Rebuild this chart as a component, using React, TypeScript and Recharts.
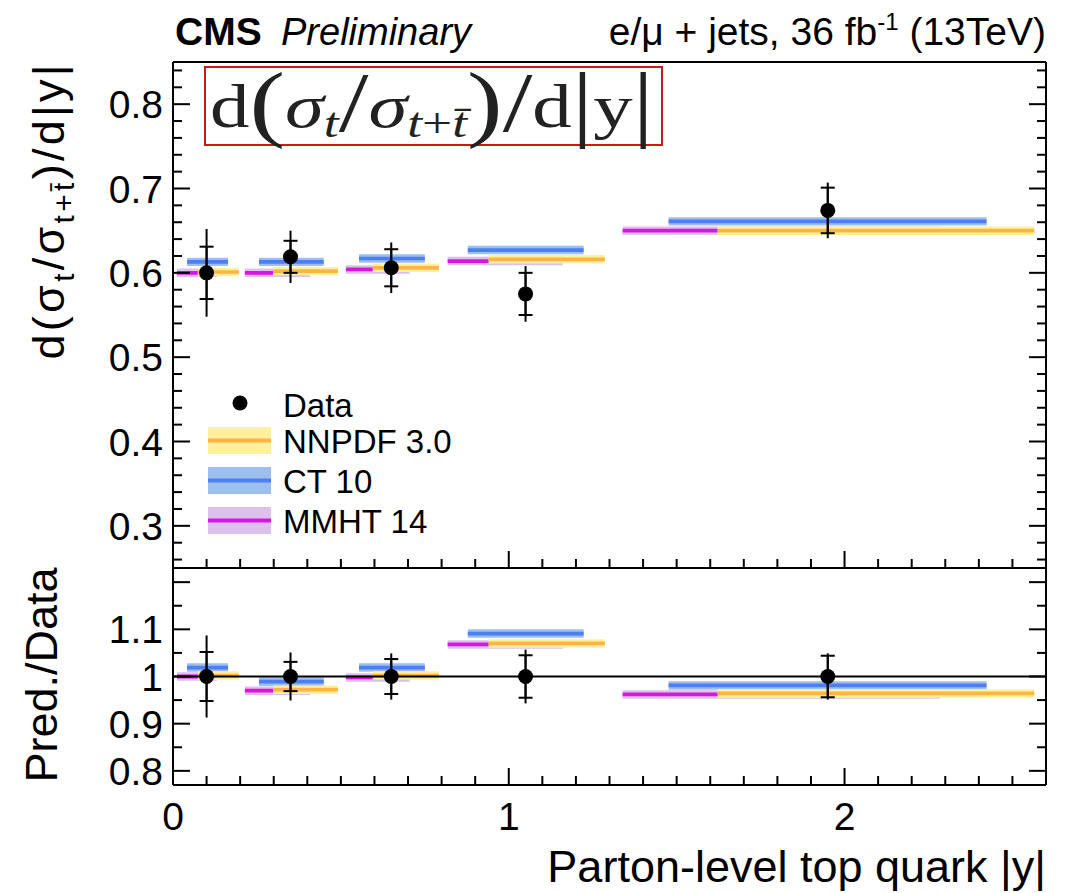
import React from 'react'
import { ComposedChart, XAxis, YAxis, Scatter, ErrorBar, ReferenceArea, ReferenceLine } from 'recharts'

const W = 1069
const H = 893
const FONT = '"Liberation Sans", Arial, Helvetica, sans-serif'
const SERIF = '"Liberation Serif", "DejaVu Serif", serif'

// measured points (bin centres, normalised cross section)
const binX = [0.1, 0.35, 0.65, 1.05, 1.95]
const dataVal = [0.6, 0.619, 0.606, 0.575, 0.674]
const dataStat = [0.031, 0.019, 0.022, 0.025, 0.027]
const dataTot = [0.052, 0.031, 0.03, 0.033, 0.033]
const ratioStat = [0.052, 0.031, 0.037, 0.045, 0.044]
const ratioTot = [0.087, 0.051, 0.049, 0.057, 0.049]

// predictions: horizontal extent of each bar (in |y|)
const mmhtX = [[0.012, 0.131], [0.214, 0.408], [0.515, 0.705], [0.818, 1.161], [1.339, 2.283]]
const ct10X = [[0.042, 0.164], [0.256, 0.449], [0.554, 0.75], [0.878, 1.223], [1.476, 2.423]]
const nnpdfX = [[0.074, 0.196], [0.298, 0.491], [0.595, 0.792], [0.94, 1.286], [1.622, 2.565]]

const mmhtVal = [0.6, 0.6, 0.604, 0.614, 0.65]
const ct10Val = [0.613, 0.613, 0.617, 0.627, 0.661]
const nnpdfVal = [0.601, 0.602, 0.606, 0.616, 0.65]

const mmhtRatio = [1.0, 0.97, 0.998, 1.068, 0.962]
const ct10Ratio = [1.019, 0.989, 1.019, 1.091, 0.981]
const nnpdfRatio = [1.002, 0.972, 1.002, 1.07, 0.964]

const predUnc = 0.005
const ratioUnc = 0.009

// ticks
const xTicks = [0, 0.1, 0.2, 0.3, 0.4, 0.5, 0.6, 0.7, 0.8, 0.9, 1, 1.1, 1.2, 1.3, 1.4, 1.5, 1.6, 1.7, 1.8, 1.9, 2, 2.1, 2.2, 2.3, 2.4, 2.5, 2.6]
const xMajor = [0, 1, 2]
const topYTicks = [0.26, 0.28, 0.3, 0.32, 0.34, 0.36, 0.38, 0.4, 0.42, 0.44, 0.46, 0.48, 0.5, 0.52, 0.54, 0.56, 0.58, 0.6, 0.62, 0.64, 0.66, 0.68, 0.7, 0.72, 0.74, 0.76, 0.78, 0.8, 0.82, 0.84]
const topYMajor = [0.3, 0.4, 0.5, 0.6, 0.7, 0.8]
const ratioYTicks = [0.8, 0.85, 0.9, 0.95, 1, 1.05, 1.1, 1.15, 1.2]
const ratioYMajor = [0.8, 0.9, 1, 1.1, 1.2]
const ratioYLabels = [0.8, 0.9, 1, 1.1]

const colors = {
  nnpdf: { band: '#fff19c', line: '#ffb347' },
  ct10: { band: '#9dbff0', line: '#4d80ee' },
  mmht: { band: '#dcc0ee', line: '#dd14dd' },
}

const AXIS = { stroke: '#000', strokeWidth: 2 }
const has = (arr: number[], v: number) => arr.some(m => Math.abs(m - v) < 1e-6)

// inward ROOT-style ticks, labels only on the listed values
function makeTick(dir: 'up' | 'down' | 'left' | 'right', majors: number[], labels: number[] | null, kind: 'x' | 'y' = 'y') {
  return (props: any) => {
    const { x, y, payload } = props
    const v = payload.value
    const len = has(majors, v) ? 17 : 9
    let x2 = x
    let y2 = y
    if (dir === 'right') x2 = x + len
    if (dir === 'left') x2 = x - len
    if (dir === 'up') y2 = y - len
    if (dir === 'down') y2 = y + len
    const show = labels && has(labels, v)
    return (
      <g>
        <line x1={x} y1={y} x2={x2} y2={y2} stroke="#000" strokeWidth={2} />
        {show && kind === 'y' && (
          <text x={x - 10} y={y} dy="0.36em" textAnchor="end" fontSize={39} fontFamily={FONT} fill="#000">
            {String(v)}
          </text>
        )}
        {show && kind === 'x' && (
          <text x={x} y={y + 45} textAnchor="middle" fontSize={39} fontFamily={FONT} fill="#000">
            {String(v)}
          </text>
        )}
      </g>
    )
  }
}

function bars(xr: number[][], vals: number[], unc: number, half: number, c: { band: string; line: string }, key: string) {
  return xr.flatMap(([a, b], i) => [
    <ReferenceArea key={`${key}b${i}`} x1={a} x2={b} y1={vals[i] - unc} y2={vals[i] + unc} fill={c.band} fillOpacity={1} stroke="none" />,
    <ReferenceArea key={`${key}l${i}`} x1={a} x2={b} y1={vals[i] - half} y2={vals[i] + half} fill={c.line} fillOpacity={1} stroke="none" />,
  ])
}

const Dot = (p: any) => <circle cx={p.cx} cy={p.cy} r={7.5} fill="#000" />

const topPoints = binX.map((x, i) => ({ x, y: dataVal[i], stat: dataStat[i], tot: dataTot[i] }))
const ratioPoints = binX.map((x, i) => ({ x, y: 1, stat: ratioStat[i], tot: ratioTot[i] }))

function Axes({ yDomain, yTicks, yMajor, yLabels, xLabels }: { yDomain: number[]; yTicks: number[]; yMajor: number[]; yLabels: number[]; xLabels: number[] | null }) {
  return (
    <>
      <XAxis dataKey="x" type="number" domain={[0, 2.6]} allowDataOverflow ticks={xTicks} interval={0} height={1}
        tickSize={0} tickMargin={0} tickLine={false} axisLine={AXIS} tick={makeTick('up', xMajor, xLabels, 'x')} />
      <XAxis xAxisId="top" orientation="top" type="number" domain={[0, 2.6]} allowDataOverflow ticks={xTicks} interval={0} height={1}
        tickSize={0} tickMargin={0} tickLine={false} axisLine={AXIS} tick={makeTick('down', xMajor, null)} />
      <YAxis dataKey="y" type="number" domain={yDomain} allowDataOverflow ticks={yTicks} interval={0} width={173}
        tickSize={0} tickMargin={0} tickLine={false} axisLine={AXIS} tick={makeTick('right', yMajor, yLabels)} />
      <YAxis yAxisId="right" orientation="right" type="number" domain={yDomain} allowDataOverflow ticks={yTicks} interval={0} width={1}
        tickSize={0} tickMargin={0} tickLine={false} axisLine={AXIS} tick={makeTick('left', yMajor, null)} />
    </>
  )
}

function TopPanel() {
  return (
    <ComposedChart width={W} height={H} margin={{ top: 61, right: 22, bottom: H - 569, left: 0 }}>
      {Axes({ yDomain: [0.25, 0.85], yTicks: topYTicks, yMajor: topYMajor, yLabels: topYMajor, xLabels: null })}
      {bars(mmhtX, mmhtVal, predUnc, 0.0022, colors.mmht, 'm')}
      {bars(ct10X, ct10Val, predUnc, 0.0022, colors.ct10, 'c')}
      {bars(nnpdfX, nnpdfVal, predUnc, 0.0022, colors.nnpdf, 'n')}
      <Scatter data={topPoints} isAnimationActive={false} shape={Dot}>
        <ErrorBar dataKey="tot" direction="y" width={0} stroke="#000" strokeWidth={2} />
        <ErrorBar dataKey="stat" direction="y" width={7} stroke="#000" strokeWidth={2} />
      </Scatter>
    </ComposedChart>
  )
}

function RatioPanel() {
  return (
    <ComposedChart width={W} height={H} margin={{ top: 567, right: 22, bottom: H - 786, left: 0 }}>
      {Axes({ yDomain: [0.77, 1.23], yTicks: ratioYTicks, yMajor: ratioYMajor, yLabels: ratioYLabels, xLabels: xMajor })}
      <ReferenceLine y={1} stroke="#000" strokeWidth={2} />
      {bars(mmhtX, mmhtRatio, ratioUnc, 0.004, colors.mmht, 'm')}
      {bars(ct10X, ct10Ratio, ratioUnc, 0.004, colors.ct10, 'c')}
      {bars(nnpdfX, nnpdfRatio, ratioUnc, 0.004, colors.nnpdf, 'n')}
      <Scatter data={ratioPoints} isAnimationActive={false} shape={Dot}>
        <ErrorBar dataKey="tot" direction="y" width={0} stroke="#000" strokeWidth={2} />
        <ErrorBar dataKey="stat" direction="y" width={7} stroke="#000" strokeWidth={2} />
      </Scatter>
    </ComposedChart>
  )
}

function Overlay() {
  const legend = [
    { label: 'NNPDF 3.0', c: colors.nnpdf, y: 427 },
    { label: 'CT 10', c: colors.ct10, y: 467 },
    { label: 'MMHT 14', c: colors.mmht, y: 507 },
  ]
  return (
    <svg width={W} height={H} style={{ position: 'absolute', left: 0, top: 0, pointerEvents: 'none' }} fontFamily={FONT}>
      <text x={175} y={45} fontSize={39} fontWeight="bold">CMS</text>
      <text x={281} y={45} fontSize={38} fontStyle="italic">Preliminary</text>
      <text x={1046} y={45} fontSize={39} textAnchor="end">
        e/μ + jets, 36 fb<tspan fontSize={24} dy={-15}>-1</tspan><tspan dy={15}> (13TeV)</tspan>
      </text>

      <text transform="translate(64,212) rotate(-90)" fontSize={45} textAnchor="middle" textLength={295} lengthAdjust="spacing">
        d(σ<tspan fontSize={30} dy={10}>t</tspan><tspan dy={-10}>/σ</tspan><tspan fontSize={30} dy={10}>t+t̄</tspan><tspan dy={-10}>)/d|y|</tspan>
      </text>
      <text transform="translate(57,675) rotate(-90)" fontSize={45} textAnchor="middle">Pred./Data</text>
      <text x={1046} y={882} fontSize={45} textAnchor="end">Parton-level top quark |y|</text>

      <rect x={205} y={67} width={457} height={78} fill="none" stroke="#d01818" strokeWidth={2} />
      <text x={210} y={127} fontFamily={SERIF} fontSize={62} fill="#222" textLength={444} lengthAdjust="spacingAndGlyphs">
        d<tspan fontSize={84} dy={4}>(</tspan><tspan dy={-4} fontStyle="italic">σ</tspan><tspan fontStyle="italic" fontSize={42} dy={10}>t</tspan><tspan fontSize={84} dy={-6}>/</tspan><tspan dy={-4} fontStyle="italic">σ</tspan><tspan fontSize={42} dy={10}><tspan fontStyle="italic">t</tspan>+<tspan fontStyle="italic">t̄</tspan></tspan><tspan fontSize={84} dy={-6}>)</tspan><tspan fontSize={84} dy={0}>/</tspan><tspan dy={-4}>d</tspan><tspan fontSize={84} dy={4}>|</tspan><tspan dy={-4}>y</tspan><tspan fontSize={84} dy={4}>|</tspan>
      </text>

      <circle cx={240} cy={403} r={7.5} fill="#000" />
      <text x={283} y={417} fontSize={33}>Data</text>
      {legend.map(l => (
        <g key={l.label}>
          <rect x={208} y={l.y} width={63} height={27} fill={l.c.band} />
          <rect x={208} y={l.y + 11.5} width={63} height={4} fill={l.c.line} />
          <text x={283} y={l.y + 26} fontSize={33}>{l.label}</text>
        </g>
      ))}
    </svg>
  )
}

export default function App() {
  return (
    <div style={{ position: 'absolute', left: 0, top: 0, width: W, height: H, background: '#fff', fontFamily: FONT }}>
      <div style={{ position: 'absolute', left: 0, top: 0 }}>
        <RatioPanel />
      </div>
      <div style={{ position: 'absolute', left: 0, top: 0 }}>
        <TopPanel />
      </div>
      <Overlay />
    </div>
  )
}
